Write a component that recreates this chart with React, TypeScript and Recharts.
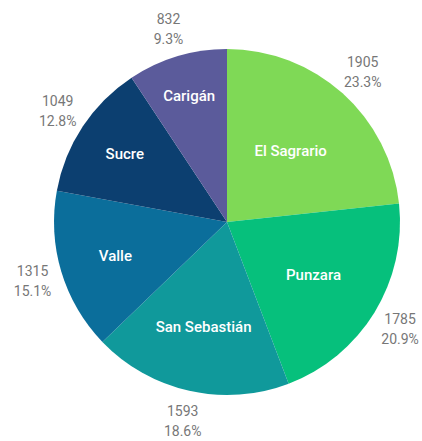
import React from 'react';
import { PieChart, Pie, Cell } from 'recharts';

const parroquias = ['El Sagrario', 'Punzara', 'San Sebastián', 'Valle', 'Sucre', 'Carigán'];
const totals = [1905, 1785, 1593, 1315, 1049, 832];
const shares = [23.3, 20.9, 18.6, 15.1, 12.8, 9.3];
const colors = ['#7fd956', '#06c07c', '#10999b', '#0b6e9b', '#0c3f70', '#5b5b9b'];

const data = parroquias.map((name, i) => ({ name, total: totals[i], share: shares[i] }));

const RAD = Math.PI / 180;

const renderLabel = (props: any) => {
  const { cx, cy, midAngle, outerRadius, index } = props;
  const d = data[index];
  const cos = Math.cos(-midAngle * RAD);
  const sin = Math.sin(-midAngle * RAD);
  // smaller slices push the name further out
  const inner = outerRadius * (0.9 - 0.015 * d.share);
  const outer = outerRadius + 30;
  const ix = cx + inner * cos;
  const iy = cy + inner * sin;
  const ox = cx + outer * cos;
  const oy = cy + outer * sin;
  return (
    <g>
      <text x={ix} y={iy} fill="#fff" textAnchor="middle" dominantBaseline="central"
        fontSize={15} fontWeight={500} fontFamily="Roboto">
        {d.name}
      </text>
      <text x={ox} y={oy} fill="#777" textAnchor="middle" fontSize={14} fontFamily="Roboto">
        <tspan x={ox} dy={-4}>{d.total}</tspan>
        <tspan x={ox} dy={20}>{d.share.toFixed(1)}%</tspan>
      </text>
    </g>
  );
};

export default function App() {
  return (
    <div style={{ position: 'absolute', left: 0, top: 0, width: 422, height: 441, background: '#fff' }}>
      <PieChart width={422} height={441} margin={{ top: 0, right: 0, bottom: 0, left: 0 }}>
        <Pie
          data={data}
          dataKey="share"
          nameKey="name"
          cx={227}
          cy={222}
          outerRadius={173}
          startAngle={90}
          endAngle={-270}
          stroke="none"
          label={renderLabel}
          labelLine={false}
          isAnimationActive={false}
        >
          {data.map((d, i) => (
            <Cell key={d.name} fill={colors[i]} />
          ))}
        </Pie>
      </PieChart>
    </div>
  );
}
